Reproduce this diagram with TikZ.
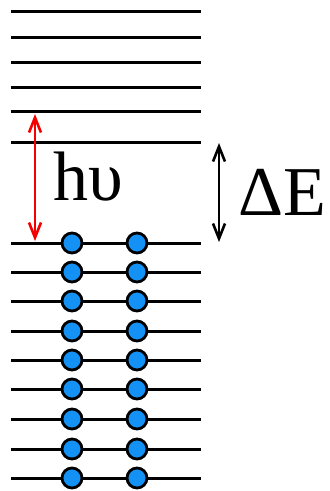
\documentclass[tikz,border=0pt]{standalone}
\usepackage{fontspec}
\setmainfont{Liberation Serif}
\usetikzlibrary{arrows.meta,positioning}
\definecolor{electronblue}{RGB}{20,145,245}
\definecolor{photonred}{RGB}{245,0,0}

\begin{document}
\begin{tikzpicture}[
    x=1pt, y=-1pt,
    level/.style={line width=3pt},
    electron/.style={circle, draw, line width=2.8pt, fill=electronblue,
                     minimum size=20pt, inner sep=0pt},
    dbl/.style={{Straight Barb[length=15pt,width=12pt]}-{Straight Barb[length=15pt,width=12pt]},
                line width=2.6pt},
    big/.style={font=\fontsize{70}{80}\selectfont, inner sep=0pt}
]
    \useasboundingbox (0,0) rectangle (330,491);

    % empty levels (conduction)
    \foreach \y [count=\i] in {11,37,62,87,111,142} {
        \coordinate (u\i) at (11,\y);
        \draw[level] (u\i) -- ++(190,0);
    }
    % filled levels (valence)
    \foreach \y [count=\i] in {243,272,301,331,360,389,419,449,478} {
        \coordinate (f\i) at (11,\y);
        \draw[level] (f\i) -- ++(190,0);
        \node[electron] (a\i) at (72,\y) {};
        \node[electron] (b\i) at (137,\y) {};
    }

    % photon and gap
    \coordinate (ptop) at (35,114);
    \coordinate (pbot) at (35,241);
    \coordinate (gtop) at (219,143);
    \coordinate (gbot) at (219,242);
    \draw[dbl, photonred] (ptop) -- (pbot);
    \draw[dbl] (gtop) -- (gbot);

    \node[big, anchor=base west] (hv) at (53,200) {hυ};
    \node[big, anchor=base west] (dE) at (238,215) {ΔE};
\end{tikzpicture}
\end{document}
